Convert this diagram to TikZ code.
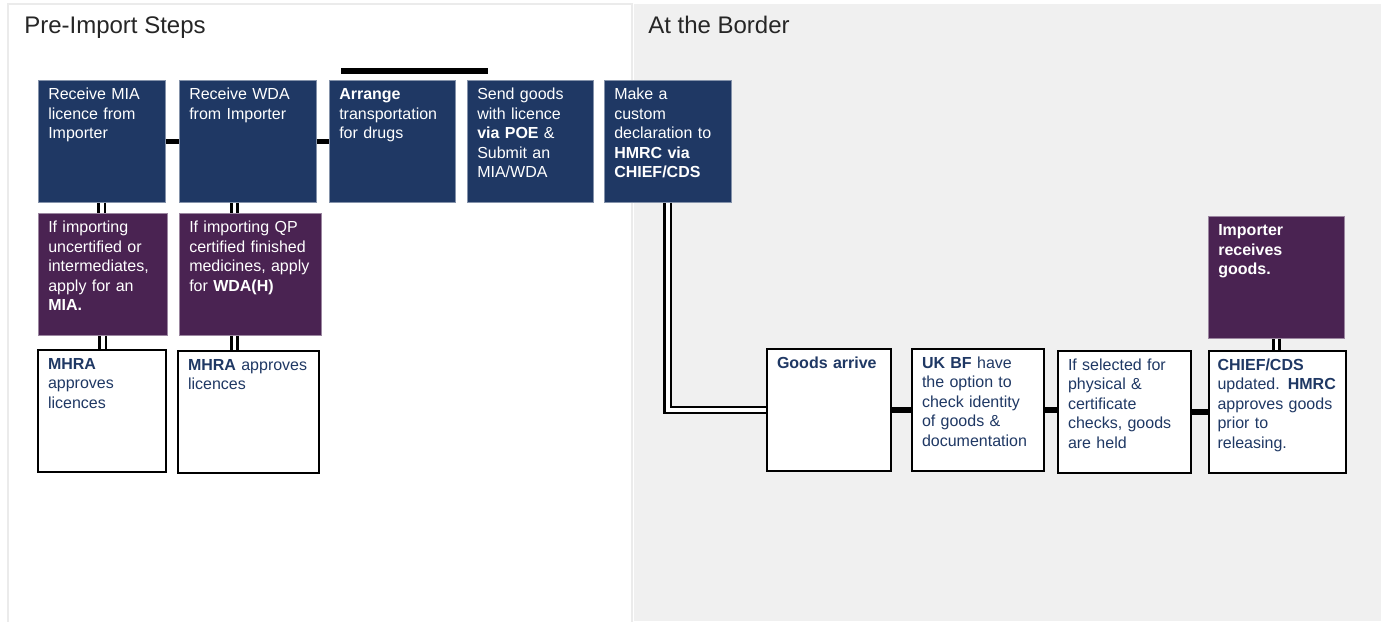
\documentclass[tikz,border=0pt]{standalone}
\usepackage{fontspec}
\setmainfont{Liberation Sans}
\usepackage{xcolor}
\usepackage{tikz}
\usetikzlibrary{
    positioning,
    calc
}
\definecolor{navy}{RGB}{31, 56, 100}
\definecolor{plum}{RGB}{74, 35, 82}
\definecolor{panelgrey}{RGB}{240, 240, 240}
\newcommand{\boxfont}{\fontsize{12}{14.6}\selectfont}
\newcommand{\titlefont}{\fontsize{18}{21}\selectfont}

\begin{document}
\begin{tikzpicture}[x=0.75pt, y=-0.75pt,
        stepbox/.style={anchor=north west, align=left, inner xsep=7.5pt, inner ysep=4pt,
            text height=10.5pt, text depth=73pt, font=\boxfont},
        navybox/.style={stepbox, fill=navy, draw=navy!55!white, line width=0.4pt, text=white},
        plumbox/.style={stepbox, fill=plum, draw=plum!55!white, line width=0.4pt, text=white},
        whitebox/.style={stepbox, fill=white, draw=black, line width=1.5pt, text=navy},
        joinline/.style={line width=4pt},
        twinline/.style={line width=2pt, double=white, double distance=2.6pt}]
                        \useasboundingbox (0, 0) rectangle (1381, 621);
                        \fill[white] (0, 0) rectangle (1381, 621);
                        \begin{scope}
                            \draw[draw=black!8, line width=1.5pt, fill=white] (8, 4) rectangle (632, 630);
                            \node[anchor=base west, inner sep=0pt, font=\titlefont, text=black!85] (preimport) at (24, 33) {Pre-Import Steps};
                            \node[navybox, text width=80.25pt] (mia) at (38, 80) {Receive MIA\\licence from\\Importer};
                            \node[navybox, text width=87.75pt] (wda) at (179, 80) {Receive WDA\\from Importer};
                            \node[navybox, text width=79.5pt] (arrange) at (329, 80) {\textbf{Arrange}\\transportation\\for drugs};
                            \node[navybox, text width=79.5pt] (send) at (467, 80) {Send goods\\with licence\\\textbf{via POE} \&\\Submit an\\MIA/WDA};
                            \node[plumbox, text width=81.75pt] (applymia) at (38, 213) {If importing\\uncertified or\\intermediates,\\apply for an\\\textbf{MIA.}};
                            \node[plumbox, text width=91.5pt] (applywda) at (179, 213) {If importing QP\\certified finished\\medicines, apply\\for \textbf{WDA(H)}};
                            \node[whitebox, text width=81pt] (mhraone) at (37, 349) {\textbf{MHRA}\\approves\\licences};
                            \node[whitebox, text width=90.75pt] (mhratwo) at (177, 350) {\textbf{MHRA} approves\\licences};
                        \end{scope}
                        \begin{scope}
                            \fill[panelgrey] (634, 4) rectangle (1381, 621);
                            \node[anchor=base west, inner sep=0pt, font=\titlefont, text=black!85] (border) at (648, 33) {At the Border};
                            \node[navybox, text width=80.25pt] (declare) at (604, 80) {Make a\\custom\\declaration to\\\textbf{HMRC via}\\\textbf{CHIEF/CDS}};
                            \node[whitebox, text width=78pt] (arrive) at (766, 348) {\textbf{Goods arrive}};
                            \node[whitebox, text width=84pt] (ukbf) at (911, 348) {\textbf{UK BF} have\\the option to\\check identity\\of goods \&\\documentation};
                            \node[whitebox, text width=84.75pt] (held) at (1057, 350) {If selected for\\physical \&\\certificate\\checks, goods\\are held};
                            \node[whitebox, text width=90pt, inner xsep=6.4pt] (release) at (1208, 350) {\textbf{CHIEF/CDS}\\updated. \textbf{HMRC}\\approves goods\\prior to\\releasing.};
                            \node[plumbox, text width=87pt] (receive) at (1208, 216) {\textbf{Importer}\\\textbf{receives}\\\textbf{goods.}};
                        \end{scope}
                        \coordinate (bar west) at (341, 71);
                        \coordinate (bar east) at (488, 71);
                        \draw[joinline] (bar west) -- (bar east);
                        \draw[joinline] (mia.east) -- (mia.east -| wda.west);
                        \draw[joinline] (wda.east) -- (wda.east -| arrange.west);
                        \draw[twinline] (mia.south) -- (mia.south |- applymia.north);
                        \draw[twinline] (applymia.south) -- (applymia.south |- mhraone.north);
                        \draw[twinline] ([xshift=-10pt]wda.south) -- ([xshift=-10pt]wda.south |- applywda.north);
                        \draw[twinline] ([xshift=-12pt]applywda.south) -- ([xshift=-12pt]applywda.south |- mhratwo.north);
                        \draw[twinline] (declare.south) |- (arrive.west);
                        \draw[joinline] (arrive.east) -- (arrive.east -| ukbf.west);
                        \draw[joinline] (ukbf.east) -- (ukbf.east -| held.west);
                        \draw[joinline] (held.east) -- (held.east -| release.west);
                        \draw[twinline] (receive.south) -- (receive.south |- release.north);
                    \end{tikzpicture}
\end{document}
